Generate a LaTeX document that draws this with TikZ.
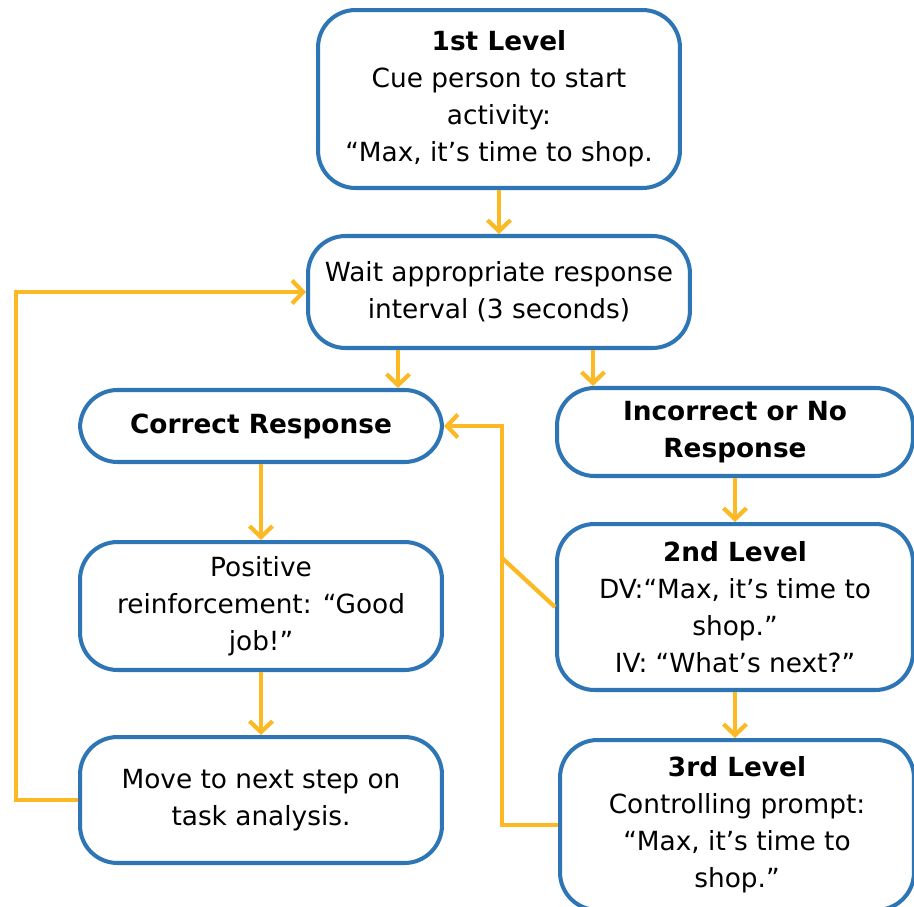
\documentclass[tikz,border=0pt]{standalone}
\usepackage{fontspec}
\setmainfont{DejaVu Sans}
\usetikzlibrary{arrows.meta,calc}
\definecolor{cbox}{HTML}{2E75B6}
\definecolor{cflow}{HTML}{FDB924}
\tikzset{
  every picture/.style={x=0.02cm, y=-0.02cm, font=\fontsize{15}{21}\selectfont},
  stage/.style={draw=cbox, line width=2.3pt, rounded corners=0.75cm,
    fill=white, align=center, inner sep=0pt},
  flow/.style={cflow, line width=2.4pt,
    -{Straight Barb[length=0.22cm,width=0.46cm,line width=2.4pt]}},
  link/.style={cflow, line width=2.4pt},
}

\begin{document}
\begin{tikzpicture}
  \useasboundingbox (0,0) rectangle (914,907);
  % boxes
  \node[stage, minimum width=7.24cm, minimum height=3.56cm] (lvl1) at (499,99)
    {\textbf{1st Level}\\Cue person to start\\activity:\\“Max, it’s time to shop.};
  \node[stage, minimum width=7.64cm, minimum height=2.24cm] (wait) at (499,292)
    {Wait appropriate response\\interval (3 seconds)};
  \node[stage, minimum width=7.24cm, minimum height=1.44cm] (correct) at (261,426)
    {\textbf{Correct Response}};
  \node[stage, minimum width=7.12cm, minimum height=1.76cm] (incorrect) at (735,432)
    {\textbf{Incorrect or No}\\\textbf{Response}};
  \node[stage, minimum width=7.24cm, minimum height=2.56cm] (posrf) at (261,606)
    {Positive\\reinforcement: “Good\\job!”};
  \node[stage, minimum width=7.24cm, minimum height=2.52cm] (move) at (261,800)
    {Move to next step on\\task analysis.};
  \node[stage, minimum width=7.12cm, minimum height=3.32cm] (lvl2) at (735,607)
    {\textbf{2nd Level}\\DV:“Max, it’s time to\\shop.”\\IV: “What’s next?”};
  \node[stage, minimum width=7.08cm, minimum height=3.40cm] (lvl3) at (737,825)
    {\textbf{3rd Level}\\Controlling prompt:\\“Max, it’s time to\\shop.”};

  \coordinate (loopc) at (16,292);
  \coordinate (backc) at (502,426);
  \coordinate (joint) at (502,558);

  % connectors
  \draw[flow] (lvl1) -- (wait);
  \draw[flow] ([xshift=-2.02cm]wait.south) -- ([xshift=-2.02cm]wait.south |- correct.north);
  \draw[flow] ([xshift=1.88cm]wait.south) -- ([xshift=1.88cm]wait.south |- incorrect.north);
  \draw[flow] (correct) -- (posrf);
  \draw[flow] (posrf) -- (move);
  \draw[flow] (incorrect) -- (lvl2);
  \draw[flow] (lvl2.south) -- (lvl2.south |- lvl3.north);
  \draw[flow] (move.west) -| (loopc |- wait.west) -- (wait.west);
  \draw[flow] (lvl3.west) -| (backc) -- (correct.east);
  \draw[link] (lvl2.west) -- (joint);
\end{tikzpicture}
\end{document}
